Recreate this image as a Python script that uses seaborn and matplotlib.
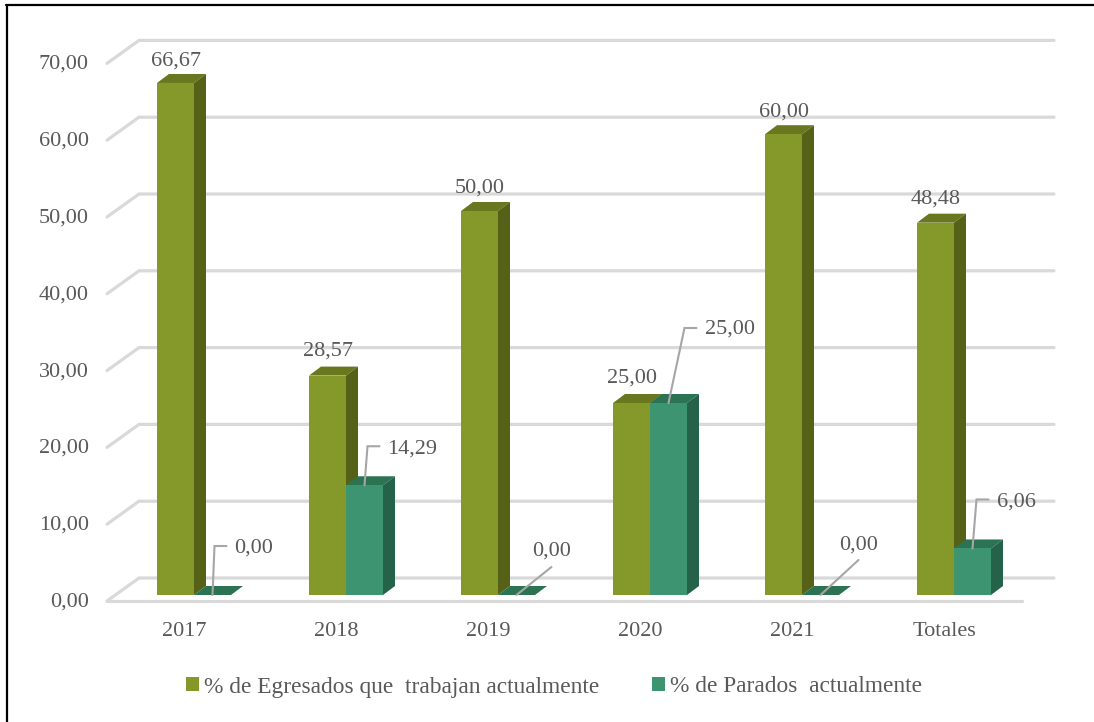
import matplotlib
matplotlib.use("Agg")
import matplotlib.pyplot as plt
from matplotlib.lines import Line2D
from matplotlib.patches import Polygon
from matplotlib.transforms import ScaledTranslation
import pandas as pd
import seaborn as sns

categories = ["2017", "2018", "2019", "2020", "2021", "Totales"]
egresados = [66.67, 28.57, 50.00, 25.00, 60.00, 48.48]
parados = [0.00, 14.29, 0.00, 25.00, 0.00, 6.06]
series_names = ["% de Egresados que  trabajan actualmente", "% de Parados  actualmente"]
y_ticks = [0, 10, 20, 30, 40, 50, 60, 70]

# styles
W, H, DPI = 1094, 722, 100
PX_X = 152.0      # pixels per category
PX_Y = 7.68       # pixels per value unit
front = ["#85982A", "#3C9470"]
side = ["#566118", "#24624A"]
top = ["#69781F", "#2C7354"]
TXT = "#595959"
GRID = "#D9D9D9"
GAP = "#A6A6A6"

sns.set_theme(style="white")
plt.rcParams["font.family"] = ["Liberation Serif", "DejaVu Serif"]

df = pd.DataFrame({
    "cat": categories * 2,
    "val": egresados + parados,
    "serie": [series_names[0]] * len(categories) + [series_names[1]] * len(categories),
})

fig = plt.figure(figsize=(W / DPI, H / DPI), dpi=DPI, facecolor="white")
L, R, T, B = 107, 1054, 30, 601
ax = fig.add_axes([L / W, 1 - B / H, (R - L) / W, (B - T) / H])
sns.barplot(data=df, x="cat", y="val", hue="serie", order=categories, hue_order=series_names,
            palette=dict(zip(series_names, front)), width=74 / PX_X, gap=0, saturation=1,
            edgecolor="none", linewidth=0, errorbar=None, ax=ax, zorder=5)

ax.set_xlim((L - 194) / PX_X, (R - 194) / PX_X)
ax.set_ylim(-6 / PX_Y, (595 - T) / PX_Y)
ax.set_xlabel("")
ax.set_ylabel("")
for s in ax.spines.values():
    s.set_visible(False)
ax.patch.set_alpha(0)


def dx(px):
    return px / PX_X


def dy(px):
    return px / PX_Y


# back-plane grid, left wall diagonals and front floor line
xl, xb, xr = ax.get_xlim()[0], ax.get_xlim()[0] + dx(32), ax.get_xlim()[1]
glw = 2.3
for v in y_ticks:
    yb = v + dy(17)
    yf = v - dy(6)
    ax.plot([xl, xb, xr], [yf, yb, yb], color=GRID, lw=glw, zorder=1, clip_on=False,
            solid_joinstyle="miter", solid_capstyle="round")
ax.plot([xl, xr - dx(32)], [-dy(6), -dy(6)], color=GRID, lw=glw, zorder=1, clip_on=False)

# 3-D faces derived from the bars seaborn drew
DX, DY = dx(12), dy(9)
for idx, cont in enumerate(ax.containers):
    z = 3 if idx == 0 else 4
    for bar in cont:
        x0, w, h = bar.get_x(), bar.get_width(), bar.get_height()
        ax.add_patch(Polygon([(x0, h), (x0 + DX, h + DY), (x0 + w + DX, h + DY), (x0 + w, h)],
                             closed=True, fc=top[idx], ec="none", zorder=z))
        ax.add_patch(Polygon([(x0 + w, 0), (x0 + w + DX, DY), (x0 + w + DX, h + DY), (x0 + w, h)],
                             closed=True, fc=side[idx], ec="none", zorder=z))

# data labels
egr_off = [22, 25, 23, 25, 22, 24]
for bar, v, off in zip(ax.containers[0], egresados, egr_off):
    ax.annotate(f"{v:.2f}".replace(".", ","), (bar.get_x() + bar.get_width() / 2, v),
                xytext=(0, off), textcoords="offset pixels", ha="center", va="center",
                fontsize=16, color=TXT, zorder=7)

# leader paths (pixel offsets from the bar's top centre) and label offsets
leaders = [
    [(0, 0), (2, 49), (14, 49)],
    [(0, 0), (3, 39), (15, 39)],
    [(0, 0), (35, 28)],
    [(0, 0), (16, 75), (28, 75)],
    [(0, 0), (38, 35)],
    [(0, 0), (4, 49), (16, 49)],
]
label_off = [(41, 47), (48, 36), (35, 44), (61, 74), (38, 50), (44, 46)]
for bar, v, path, off in zip(ax.containers[1], parados, leaders, label_off):
    xc = bar.get_x() + bar.get_width() / 2
    ax.plot([xc + dx(p[0]) for p in path], [v + dy(p[1]) for p in path], color=GAP, lw=1.5,
            zorder=6, solid_joinstyle="miter")
    ax.annotate(f"{v:.2f}".replace(".", ","), (xc, v), xytext=off, textcoords="offset pixels",
                ha="center", va="center", fontsize=16, color=TXT, zorder=7)

# axis tick labels
ax.set_yticks(y_ticks)
ax.set_yticklabels([f"{v:.2f}".replace(".", ",") for v in y_ticks])
ax.tick_params(axis="y", length=0, pad=13, labelsize=16, labelcolor=TXT)
ax.tick_params(axis="x", length=0, pad=15, labelsize=16, labelcolor=TXT)
shift_y = ScaledTranslation(0, -4.5 / DPI, fig.dpi_scale_trans)
for lab in ax.get_yticklabels():
    lab.set_transform(lab.get_transform() + shift_y)
shift_x = ScaledTranslation(-10 / DPI, 0, fig.dpi_scale_trans)
for lab in ax.get_xticklabels():
    lab.set_transform(lab.get_transform() + shift_x)

# legend
sns.move_legend(ax, loc="center", bbox_to_anchor=(554 / W, 1 - 687 / H),
                bbox_transform=fig.transFigure, ncol=2, frameon=False, title=None,
                fontsize=16.8, labelcolor=TXT, handlelength=0.54, handleheight=0.54,
                handletextpad=0.21, columnspacing=2.3)

# frame of the picture: left and top only
fig.add_artist(Line2D([7 / W, 7 / W], [0, 1 - 5 / H], color="black", lw=1.6, transform=fig.transFigure))
fig.add_artist(Line2D([6 / W, 1], [1 - 5 / H, 1 - 5 / H], color="black", lw=1.6, transform=fig.transFigure))

fig.savefig("out.png", dpi=DPI, facecolor="white")
